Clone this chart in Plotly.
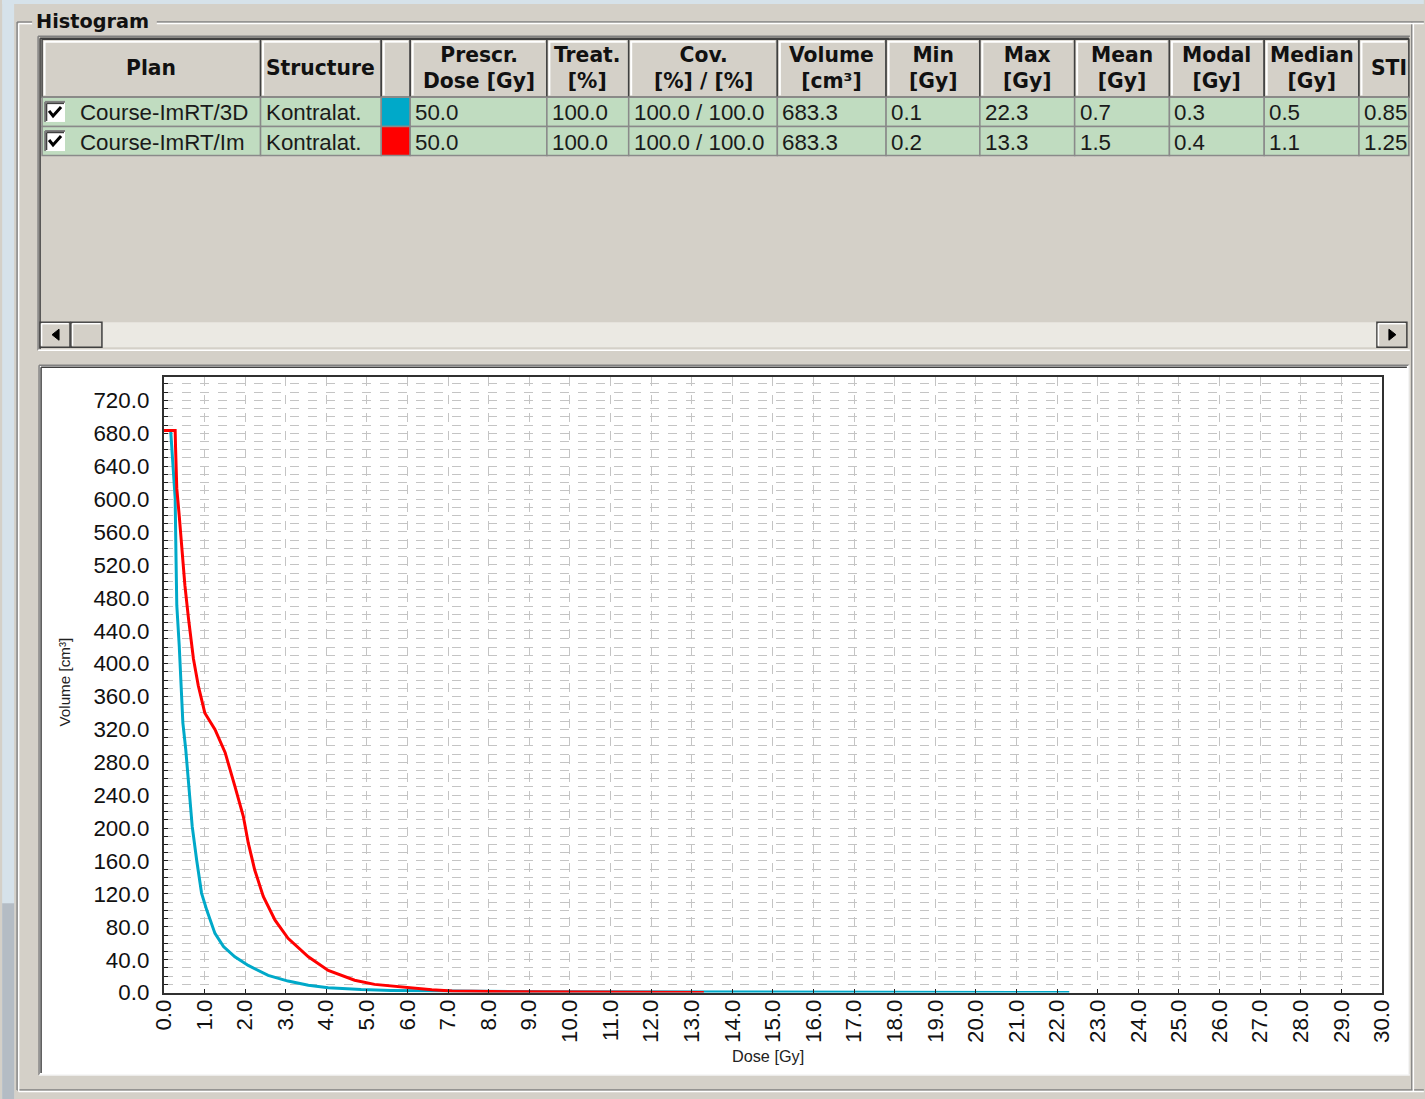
import plotly.graph_objects as go

# layout is written in pixels of the 1425x1099 reference; the page viewport is
# 1116px tall and gets fitted back to 1099, so map through that scale
W, H = 1425, 1099
FIG_H = 1116
K = H / FIG_H
PAD = W * (1 - K) / 2

# DVH curves: dose [Gy] vs volume [cm3]
dose_3d = [0.0, 0.17, 0.19, 0.24, 0.28, 0.30, 0.32, 0.38, 0.43, 0.47, 0.54, 0.61, 0.70,
           0.81, 0.93, 1.06, 1.26, 1.47, 1.75, 2.08, 2.57, 3.06, 3.56, 4.05, 4.86, 5.6,
           6.5, 7.2, 8.6, 9.4, 11.0, 13.3, 17.0, 22.3]
vol_3d = [683.3, 683.3, 668, 637, 601, 532, 471, 422, 365, 328, 296, 255, 202,
          161, 121, 100, 72, 56, 43.5, 33, 21, 14, 9, 6, 3.7, 2.6,
          2.0, 1.6, 1.4, 1.0, 0.8, 0.6, 0.4, 0.0]

dose_im = [0.0, 0.28, 0.29, 0.32, 0.38, 0.44, 0.52, 0.61, 0.73, 0.85, 1.01, 1.26, 1.51,
           1.75, 1.96, 2.08, 2.24, 2.45, 2.74, 3.06, 3.56, 4.05, 4.70, 5.19, 6.01, 6.6,
           7.1, 8.6, 13.3]
vol_im = [683.3, 683.3, 662, 613, 580, 544, 495, 454, 406, 373, 340, 320, 292,
          251, 214, 182, 149, 117, 88, 66, 43.5, 27, 15, 10, 6, 3.6,
          2.0, 1.0, 0.0]

# table contents
plans = ["Course-ImRT/3D", "Course-ImRT/Im"]
structures = ["Kontralat.", "Kontralat."]
prescr_dose = ["50.0", "50.0"]
treat = ["100.0", "100.0"]
coverage = ["100.0 / 100.0", "100.0 / 100.0"]
volume = ["683.3", "683.3"]
dose_min = ["0.1", "0.2"]
dose_max = ["22.3", "13.3"]
dose_mean = ["0.7", "1.5"]
dose_modal = ["0.3", "0.4"]
dose_median = ["0.5", "1.1"]
sti = ["0.85", "1.25"]
curve_colors = ["#00a9c9", "#ff0000"]
headers = ["Plan", "Structure", "", "Prescr.<br>Dose [Gy]", "Treat.<br>[%]",
           "Cov.<br>[%] / [%]", "Volume<br>[cm³]", "Min<br>[Gy]", "Max<br>[Gy]",
           "Mean<br>[Gy]", "Modal<br>[Gy]", "Median<br>[Gy]", "STI"]

y_ticks = list(range(0, 721, 40))
x_ticks = list(range(0, 31))

# column edges of the grid (screen pixels)
cols = [40, 259, 380, 409, 546, 628, 777, 886, 980, 1075, 1170, 1265, 1360, 1410]

BG = "#d4d0c8"
shapes = []
annots = []


def fx(x):
    return (x - PAD) / (W - 2 * PAD)


def fy(y):
    return 1 - y / H


def box(x0, y0, x1, y1, fill=None, line=None, lw=1):
    shapes.append(dict(type="rect", xref="paper", yref="paper", layer="below",
                       x0=fx(x0), x1=fx(x1), y0=fy(y1), y1=fy(y0),
                       fillcolor=fill or "rgba(0,0,0,0)",
                       line=dict(color=line or "rgba(0,0,0,0)", width=lw if line else 0)))


def seg(x0, y0, x1, y1, color, lw=1):
    shapes.append(dict(type="line", xref="paper", yref="paper", layer="below",
                       x0=fx(x0), y0=fy(y0), x1=fx(x1), y1=fy(y1),
                       line=dict(color=color, width=lw)))


def path(pts, color, lw=2, fill=None):
    d = "M " + " L ".join(f"{fx(a)},{fy(b)}" for a, b in pts)
    if fill:
        d += " Z"
    shapes.append(dict(type="path", xref="paper", yref="paper", layer="below", path=d,
                       fillcolor=fill or "rgba(0,0,0,0)", line=dict(color=color, width=lw)))


def text(x, y, s, size, anchor="left", family="Liberation Sans", color="#111", angle=0):
    annots.append(dict(xref="paper", yref="paper", x=fx(x), y=fy(y), text=s,
                       showarrow=False, xanchor=anchor, yanchor="middle",
                       textangle=angle,
                       font=dict(family=family, size=size / K, color=color)))


# window edges
box(0, 0, 12, 1099, "#d6e2ea")
box(0, 0, 1425, 4, "#d6e2ea")
box(0, 900, 12, 1099, "#b4bcc4")

# "Histogram" group frame (etched)
for off, c in [(0, "#808080"), (1.5, "#ffffff")]:
    seg(15 + off, 22 + off, 30, 22 + off, c, 1.5)
    seg(155, 22 + off, 1425, 22 + off, c, 1.5)
    seg(15 + off, 22 + off, 15 + off, 1086 + off, c, 1.5)
    seg(15 + off, 1086 + off, 1425, 1086 + off, c, 1.5)
    seg(1413 + off, 22 + off, 1413 + off, 1086 + off, c, 1.5)
text(32, 21, "<b>Histogram</b>", 19, family="DejaVu Sans")

# table area (sunken)
box(36, 36, 1411, 349, BG)
seg(36, 36, 1411, 36, "#808080", 1.5)
seg(36, 36, 36, 349, "#808080", 1.5)
seg(38, 38, 1410, 38, "#404040", 1.5)
seg(38, 38, 38, 348, "#404040", 1.5)
seg(36, 349, 1411, 349, "#ffffff", 1.5)

# header cells
for i, lab in enumerate(headers):
    x0, x1 = cols[i], cols[i + 1]
    box(x0, 39, x1, 97, BG, "#404040", 1.5)
    seg(x0 + 2, 41.5, x1 - 2, 41.5, "#ffffff", 2)
    seg(x0 + 2.5, 41, x0 + 2.5, 95, "#ffffff", 2)
    if lab == "STI":
        text(1370, 68, "<b>STI</b>", 20, family="DejaVu Sans")
    elif lab:
        text((x0 + x1) / 2, 68, f"<b>{lab}</b>", 20, anchor="center", family="DejaVu Sans")

# data rows
row_cols = [plans, structures, None, prescr_dose, treat, coverage, volume,
            dose_min, dose_max, dose_mean, dose_modal, dose_median, sti]
for r in range(len(plans)):
    y0 = 97 + r * 29
    y1 = y0 + 29
    ym = (y0 + y1) / 2
    for i, vals in enumerate(row_cols):
        x0, x1 = cols[i], cols[i + 1]
        fill = curve_colors[r] if vals is None else "#c0dcc0"
        box(x0, y0, x1, y1, fill, "#8a8a8a", 1.5)
        if vals is None:
            continue
        tx = 76 if i == 0 else x0 + 3
        text(tx, ym + 1, vals[r], 22, family="Liberation Sans", color="#1a1a1a")
    # check box
    cy = ym
    box(43, cy - 10, 63, cy + 10, "#ffffff")
    seg(43, cy - 10, 63, cy - 10, "#808080", 2)
    seg(43, cy - 10, 43, cy + 10, "#808080", 2)
    seg(44.5, cy - 8.5, 62, cy - 8.5, "#404040", 1.5)
    seg(44.5, cy - 8.5, 44.5, cy + 9, "#404040", 1.5)
    path([(47, cy - 1), (51, cy + 4), (59, cy - 5)], "#000000", 3)

# horizontal scrollbar
box(38, 321, 1408, 346, "#ebe9e3")
for bx0, bx1 in [(38, 68), (69, 100), (1378, 1408)]:
    box(bx0, 321, bx1, 346, BG, "#404040", 1.5)
    seg(bx0 + 1.5, 322.5, bx1 - 1.5, 322.5, "#ffffff", 1.5)
    seg(bx0 + 1.5, 322.5, bx0 + 1.5, 344.5, "#ffffff", 1.5)
path([(57, 328), (57, 339), (50, 333.5)], "#000000", 1, fill="#000000")
path([(1390, 328), (1390, 339), (1397, 333.5)], "#000000", 1, fill="#000000")

# chart panel (sunken, white)
box(37, 364, 1410, 1071, "#ffffff")
seg(37, 364, 1410, 364, "#808080", 1.5)
seg(37, 364, 37, 1071, "#808080", 1.5)
seg(39, 366, 1408, 366, "#404040", 1.5)
seg(39, 366, 39, 1069, "#404040", 1.5)
seg(37, 1071, 1411, 1071, "#f4f4f4", 1.5)
seg(1410, 364, 1410, 1071, "#f4f4f4", 1.5)

# axis titles
text(62, 680, "Volume [cm³]", 15, anchor="center", angle=-90, color="#222")
text(768, 1052, "Dose [Gy]", 16, anchor="center", color="#222")

fig = go.Figure()
fig.add_trace(go.Scatter(x=dose_3d, y=vol_3d, mode="lines", name=plans[0],
                         line=dict(color=curve_colors[0], width=3)))
fig.add_trace(go.Scatter(x=dose_im, y=vol_im, mode="lines", name=plans[1],
                         line=dict(color=curve_colors[1], width=3)))

grid = dict(gridcolor="#c4c4c4", griddash="dash", gridwidth=1)
fig.update_layout(
    width=W, height=FIG_H, margin=dict(l=0, r=0, t=0, b=0),
    paper_bgcolor=BG, plot_bgcolor="#ffffff", showlegend=False,
    shapes=shapes, annotations=annots,
    xaxis=dict(domain=[fx(162), fx(1383)], range=[0, 30], tickvals=x_ticks,
               tickformat=".1f", tickangle=-90, ticks="inside", ticklen=4,
               tickcolor="#202020", showline=True, mirror=True, linecolor="#303030",
               linewidth=2, zeroline=False, ticklabelstandoff=-4,
               tickfont=dict(family="Liberation Sans", size=22 / K, color="#111"), **grid),
    yaxis=dict(domain=[fy(989), fy(376)], range=[0, 748], tickvals=y_ticks,
               tickformat=".1f", ticks="inside", ticklen=4, tickcolor="#202020",
               showline=True, mirror=True, linecolor="#303030", linewidth=2,
               zeroline=False, ticklabelstandoff=8,
               tickfont=dict(family="Liberation Sans", size=22 / K, color="#111"),
               minor=dict(dtick=10, ticks="inside", ticklen=4, tickcolor="#202020",
                          showgrid=True, **grid),
               **grid),
)

fig.write_html(
    "out.html",
    config={"displayModeBar": False},
    post_script="document.body.style.margin='0';"
                "document.body.style.background='#d4d0c8';",
)
